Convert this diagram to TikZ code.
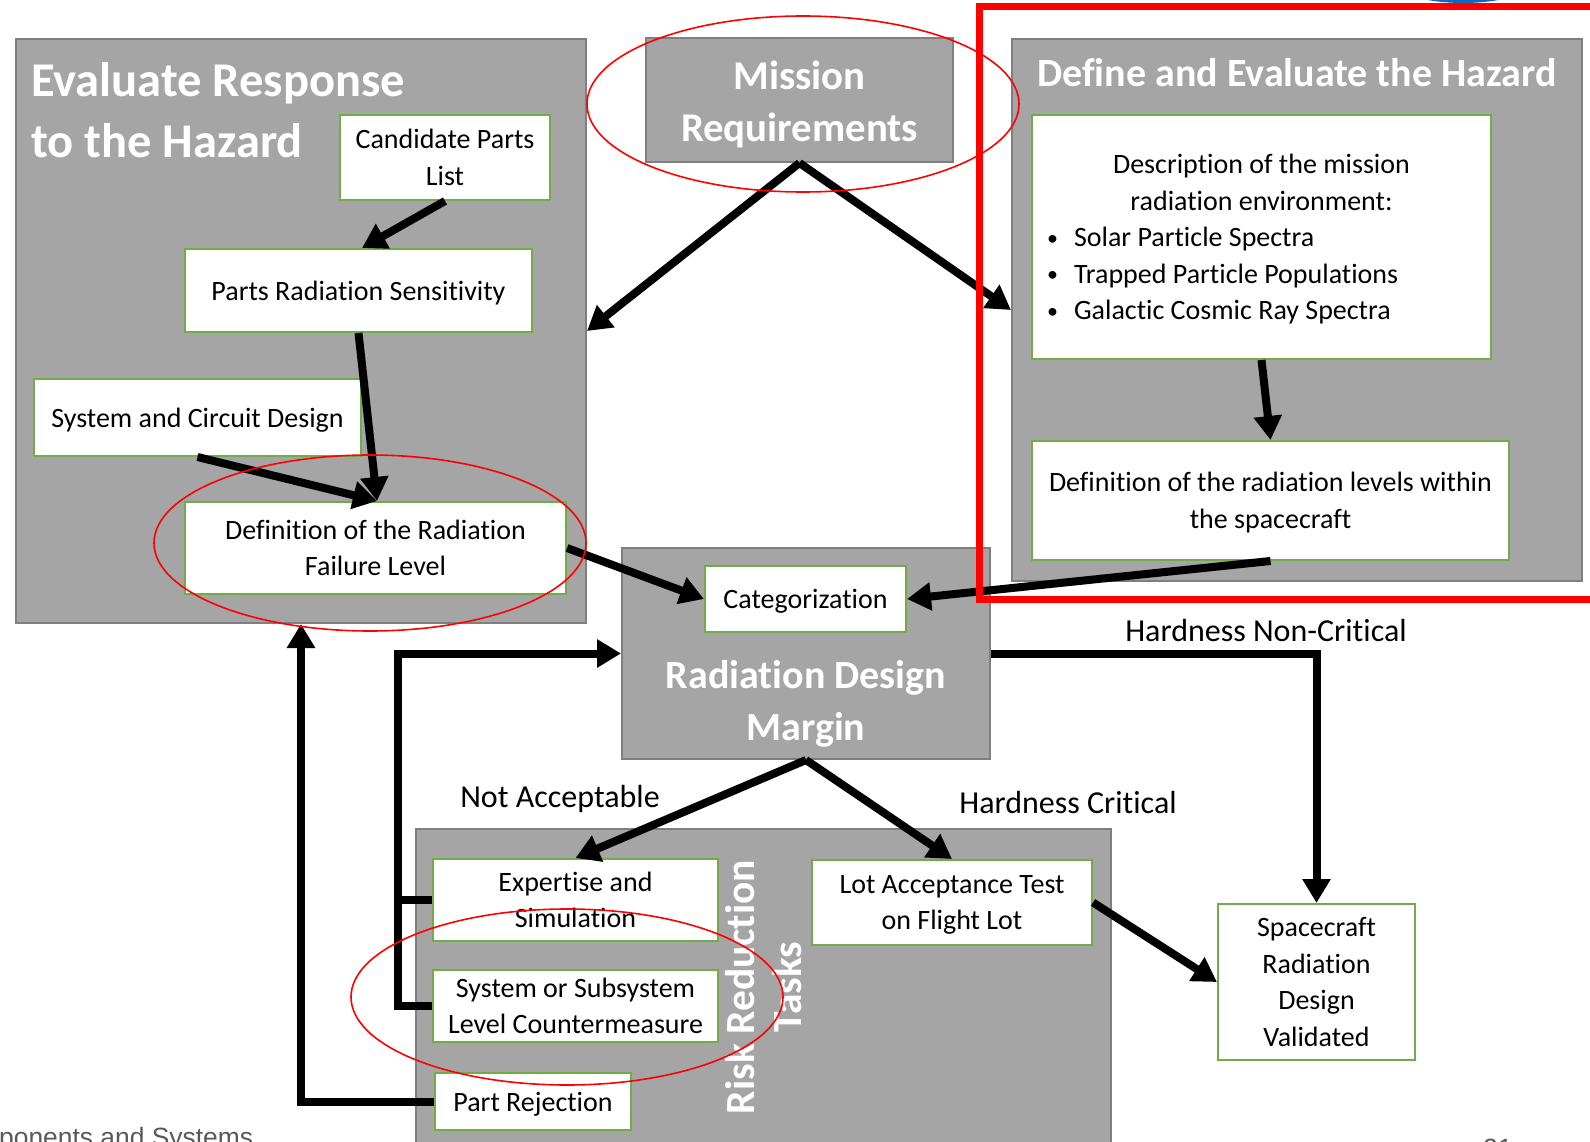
\documentclass[tikz,border=0pt]{standalone}
\usepackage{fontspec}
\setmainfont{Carlito}[Ligatures=NoCommon]
\newfontfamily\footfont{Liberation Sans}
\usepackage{tikz}
\usetikzlibrary{arrows.meta,positioning,calc}
\definecolor{panelGray}{RGB}{165,165,165}
\definecolor{panelEdge}{RGB}{127,127,127}
\definecolor{partGreen}{RGB}{112,173,71}
\definecolor{markRed}{RGB}{255,0,0}
\definecolor{logoBlue}{RGB}{18,104,186}
\definecolor{footGray}{RGB}{89,89,89}
\newcommand{\bodysize}{\fontsize{28}{36.5}\selectfont}
\newcommand{\labelsize}{\fontsize{32}{38}\selectfont}
\newcommand{\bulletitem}[1]{\makebox[419pt][l]{\makebox[22pt][l]{\hspace*{-5pt}\raisebox{1.5pt}{\fontsize{22}{22}\selectfont\textbullet}}#1}}
\tikzset{
  panel/.style={fill=panelGray, draw=panelEdge, line width=2pt, inner sep=0pt},
  paneltitle/.style={text=white, inner sep=0pt, font=\bfseries},
  partbox/.style={fill=white, draw=partGreen, line width=2pt, inner sep=0pt, align=center, text depth=-2.5pt, font=\bodysize},
  flow/.style={line width=8pt, -{Triangle[length=24pt,width=27pt]}},
  flowline/.style={line width=8pt},
  redring/.style={draw=markRed, line width=1.6pt}
}

\begin{document}
\begin{tikzpicture}[x=1pt,y=-1pt]
  \useasboundingbox (0,0) rectangle (1590,1142);
  \clip (0,0) rectangle (1590,1142);
  \fill[white] (0,0) rectangle (1590,1142);

  % grey panels
  \node[panel, minimum width=570pt, minimum height=584pt] (evalgroup) at (301,331) {};
  \node[panel, minimum width=307pt, minimum height=124pt] (mission) at (799.5,100) {};
  \node[panel, minimum width=570pt, minimum height=542pt] (hazgroup) at (1297,310) {};
  \node[panel, minimum width=368pt, minimum height=211pt] (rdm) at (806,653.5) {};
  \node[panel, minimum width=695pt, minimum height=340pt] (riskgroup) at (763.5,999) {};

  \node[paneltitle, anchor=west, align=left, font=\bfseries\fontsize{48.5}{61}\selectfont] (evaltitle) at (31,110) {Evaluate Response\\to the Hazard};
  \node[paneltitle, align=center, font=\bfseries\fontsize{40.8}{52}\selectfont] (missiontitle) at (799.5,104) {Mission\\Requirements};
  \node[paneltitle, font=\bfseries\fontsize{40}{48}\selectfont] (haztitle) at (1297,73) {Define and Evaluate the Hazard};
  \node[paneltitle, align=center, font=\bfseries\fontsize{40}{52}\selectfont] (rdmtitle) at (806,704) {Radiation Design\\Margin};
  \node[paneltitle, align=center, rotate=90, font=\bfseries\fontsize{41.5}{47}\selectfont] (risktitle) at (764,987) {Risk Reduction\\Tasks};

  % white task boxes
  \node[partbox, minimum width=210pt, minimum height=85pt] (cand) at (445,157.5) {Candidate Parts\\List};
  \node[partbox, minimum width=347pt, minimum height=83pt] (prs) at (358.5,290.5) {Parts Radiation Sensitivity};
  \node[partbox, minimum width=327pt, minimum height=77pt] (scd) at (197.5,417.5) {System and Circuit Design};
  \node[partbox, minimum width=381pt, minimum height=92pt] (failure) at (375.5,548) {Definition of the Radiation\\Failure Level};
  \node[partbox, minimum width=459pt, minimum height=244pt] (desc) at (1261.5,237) {Description of the mission\\radiation environment:\\
    \bulletitem{Solar Particle Spectra}\\
    \bulletitem{Trapped Particle Populations}\\
    \bulletitem{Galactic Cosmic Ray Spectra}};
  \node[partbox, minimum width=477pt, minimum height=119pt] (levels) at (1270.5,500.5) {Definition of the radiation levels within\\the spacecraft};
  \node[partbox, minimum width=201pt, minimum height=66pt] (cat) at (805.5,599) {Categorization};
  \node[partbox, minimum width=285pt, minimum height=82pt] (exp) at (575.5,900) {Expertise and\\Simulation};
  \node[partbox, minimum width=285pt, minimum height=72pt] (sub) at (575.5,1006) {System or Subsystem\\Level Countermeasure};
  \node[partbox, minimum width=196pt, minimum height=57pt] (rej) at (533,1101.5) {Part Rejection};
  \node[partbox, minimum width=280pt, minimum height=85pt] (lat) at (952,902.5) {Lot Acceptance Test\\on Flight Lot};
  \node[partbox, minimum width=197pt, minimum height=156pt] (valid) at (1316.5,982) {Spacecraft\\Radiation\\Design\\Validated};

  % branch labels
  \node[anchor=base, inner sep=0pt, font=\labelsize] (notacc) at (560,807) {Not Acceptable};
  \node[anchor=base, inner sep=0pt, font=\labelsize] (hcrit) at (1068,813) {Hardness Critical};
  \node[anchor=base, inner sep=0pt, font=\labelsize] (hnoncrit) at (1266,641) {Hardness Non-Critical};

  % flow arrows
  \draw[flow] (cand.south) -- ([xshift=3.5pt]prs.north);
  \draw[flow] (prs.south) -- ([xshift=1.5pt]failure.north);
  \draw[flow] (scd.south) -- ([xshift=1.5pt]failure.north);
  \draw[flow] (mission.south) -- (evalgroup.east);
  \draw[flow] (mission.south) -- (hazgroup.west);
  \draw[flow] (desc.south) -- (levels.north);
  \draw[flow] (failure.east) -- (cat.west);
  \draw[flow] (levels.south) -- (cat.east);
  \draw[flow] (rdm.south) -- (exp.north);
  \draw[flow] (rdm.south) -- (lat.north);
  \draw[flow] (rdm.east) -| (valid.north);
  \draw[flow] (lat.east) -- (valid.west);
  \coordinate (loopx) at (397.5,0);
  \draw[flowline] (exp.west) -- (exp.west -| loopx);
  \draw[flow] (sub.west) -- (sub.west -| loopx) |- (rdm.west);
  \draw[flow] (rej.west) -| (evalgroup.south);

  % red highlights
  \draw[redring] (803,104) ellipse [x radius=216pt, y radius=88pt];
  \draw[redring] (370,543) ellipse [x radius=216pt, y radius=88pt];
  \draw[redring] (567,997) ellipse [x radius=216pt, y radius=88pt];
  \draw[markRed, line width=7pt] (1600,7) -| (979,599) -- (1600,599);

  % slide leftovers
  \fill[logoBlue] (1463,-27) ellipse [x radius=81pt, y radius=30pt];
  \node[anchor=base west, inner sep=0pt, text=footGray, font=\footfont\fontsize{26.4}{30}\selectfont] (footer) at (-1,1146) {ponents and Systems};
  \node[anchor=base west, inner sep=0pt, text=footGray, font=\footfont\fontsize{26.4}{30}\selectfont] (pagenum) at (1483,1157) {21};
\end{tikzpicture}
\end{document}
